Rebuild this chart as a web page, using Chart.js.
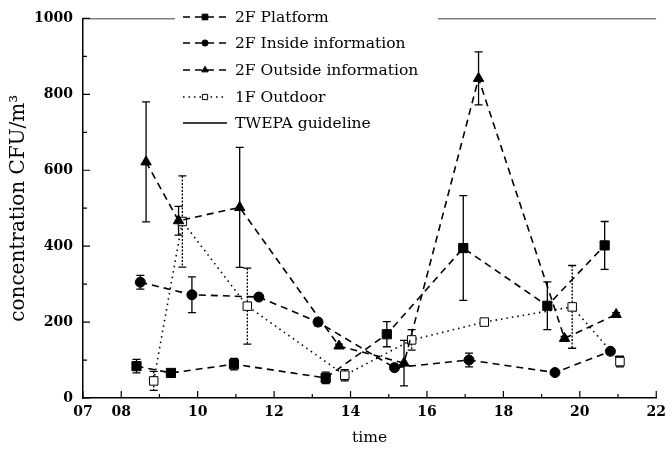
<!DOCTYPE html>
<html>
<head>
<meta charset="utf-8">
<script src="https://cdn.jsdelivr.net/npm/chart.js@4.4.0/dist/chart.umd.min.js"></script>
<style>
  html, body { margin: 0; padding: 0; background: #fff; }
  canvas { display: block; }
</style>
</head>
<body>
<canvas id="chart" width="672" height="454"></canvas>
<script>
// sampling times (hour of day), mean concentration and error per station
const platformTime = [8.4, 9.3, 10.95, 13.35, 14.95, 16.95, 19.15, 20.65];
const platformConc = [84, 66, 89, 53, 168, 395, 243, 402];
const platformErr  = [18, 4, 15, 15, 33, 138, 63, 63];

const insideTime = [8.5, 9.85, 11.6, 13.15, 15.15, 17.1, 19.35, 20.8];
const insideConc = [305, 272, 266, 200, 80, 100, 67, 123];
const insideErr  = [18, 47, 4, 10, 4, 18, 4, 4];

const outsideTime = [8.65, 9.5, 11.1, 13.7, 15.4, 17.35, 19.6, 20.95];
const outsideConc = [622, 467, 502, 137, 92, 842, 157, 220];
const outsideErr  = [158, 38, 158, 5, 60, 70, 5, 5];

const outdoorTime = [8.85, 9.6, 11.3, 13.85, 15.6, 17.5, 19.8, 21.05];
const outdoorConc = [45, 465, 242, 60, 153, 200, 240, 96];
const outdoorErr  = [25, 120, 100, 15, 27, 4, 109, 14];

const guidelineTime = [7, 22];
const guidelineConc = [1000, 1000];

const xTickLabels = ['07', '08', '', '10', '', '12', '', '14', '', '16', '', '18', '', '20', '', '22'];
const yTickLabels = ['0', '', '200', '', '400', '', '600', '', '800', '', '1000'];

const SERIF = '"DejaVu Serif", "Liberation Serif", serif';

const pts = (xs, ys) => xs.map((x, i) => ({ x, y: ys[i] }));

// vertical error bars with caps, drawn under the markers
const errorBars = {
  id: 'errorBars',
  beforeDatasetsDraw(chart) {
    const ctx = chart.ctx;
    const ys = chart.scales.y;
    chart.data.datasets.forEach((ds, i) => {
      if (!ds.err) return;
      const meta = chart.getDatasetMeta(i);
      ctx.save();
      ctx.strokeStyle = '#000';
      ctx.lineWidth = 1.3;
      meta.data.forEach((pt, j) => {
        const v = ds.data[j].y, e = ds.err[j];
        const top = ys.getPixelForValue(v + e);
        const bot = ys.getPixelForValue(v - e);
        ctx.setLineDash(ds.errDash || []);
        ctx.beginPath();
        ctx.moveTo(pt.x, top); ctx.lineTo(pt.x, bot);
        ctx.stroke();
        ctx.setLineDash([]);
        ctx.beginPath();
        ctx.moveTo(pt.x - 4, top); ctx.lineTo(pt.x + 4, top);
        ctx.moveTo(pt.x - 4, bot); ctx.lineTo(pt.x + 4, bot);
        ctx.stroke();
      });
      ctx.restore();
    });
  }
};

// inward tick marks + boxed legend in the upper part of the plot
const decorations = {
  id: 'decorations',
  afterDraw(chart) {
    const ctx = chart.ctx;
    const { x, y } = chart.scales;
    const area = chart.chartArea;
    ctx.save();
    ctx.strokeStyle = '#000';
    ctx.lineWidth = 1.2;
    ctx.beginPath();
    x.ticks.forEach((t, i) => {
      const px = x.getPixelForValue(t.value);
      const len = xTickLabels[i] ? 7 : 4;
      ctx.moveTo(px, area.bottom);
      ctx.lineTo(px, area.bottom - len);
    });
    y.ticks.forEach((t, i) => {
      const py = y.getPixelForValue(t.value);
      const len = yTickLabels[i] ? 7 : 4;
      ctx.moveTo(area.left, py);
      ctx.lineTo(area.left + len, py);
    });
    ctx.stroke();

    // legend
    ctx.fillStyle = '#fff';
    ctx.fillRect(175, 3, 263, 132);
    const x0 = 183, x1 = 227, rowY = [17, 43, 70, 97, 123];
    chart.data.datasets.forEach((ds, i) => {
      const ry = rowY[i];
      ctx.save();
      ctx.strokeStyle = '#000';
      ctx.lineWidth = ds.borderWidth;
      ctx.setLineDash(ds.borderDash || []);
      ctx.beginPath();
      ctx.moveTo(x0, ry); ctx.lineTo(x1, ry);
      ctx.stroke();
      ctx.setLineDash([]);
      if (ds.pointRadius > 0) {
        ctx.fillStyle = ds.pointBackgroundColor;
        ctx.strokeStyle = '#000';
        ctx.lineWidth = 1;
        Chart.helpers.drawPoint(ctx, {
          pointStyle: ds.pointStyle,
          radius: ds.pointRadius * 0.62,
          rotation: 0,
          borderWidth: 1
        }, (x0 + x1) / 2, ry);
      }
      ctx.restore();
      ctx.fillStyle = '#000';
      ctx.font = '15.5px ' + SERIF;
      ctx.textBaseline = 'middle';
      ctx.textAlign = 'left';
      ctx.fillText(ds.label, 235, ry + 1);
    });
    ctx.restore();
  }
};

const common = {
  borderColor: '#000',
  borderWidth: 1.6,
  tension: 0,
  pointBorderColor: '#000',
  pointBorderWidth: 1,
  fill: false
};

new Chart(document.getElementById('chart'), {
  type: 'line',
  data: {
    datasets: [
      { ...common, label: '2F Platform', data: pts(platformTime, platformConc), err: platformErr,
        borderDash: [7, 5], pointStyle: 'rect', pointRadius: 6.5, pointBackgroundColor: '#000' },
      { ...common, label: '2F Inside information', data: pts(insideTime, insideConc), err: insideErr,
        borderDash: [7, 5], pointStyle: 'circle', pointRadius: 5, pointBackgroundColor: '#000' },
      { ...common, label: '2F Outside information', data: pts(outsideTime, outsideConc), err: outsideErr,
        borderDash: [7, 5], pointStyle: 'triangle', pointRadius: 6, pointBackgroundColor: '#000' },
      { ...common, label: '1F Outdoor', data: pts(outdoorTime, outdoorConc), err: outdoorErr, errDash: [2, 1.5],
        borderDash: [1.5, 4], pointStyle: 'rect', pointRadius: 6, pointBackgroundColor: '#fff' },
      { ...common, label: 'TWEPA guideline', data: pts(guidelineTime, guidelineConc),
        borderDash: [], pointRadius: 0, pointBackgroundColor: '#000' }
    ]
  },
  options: {
    responsive: false,
    animation: false,
    devicePixelRatio: 1,
    layout: { padding: { top: 18, right: 11, left: 0, bottom: 0 } },
    plugins: {
      legend: { display: false },
      tooltip: { enabled: false }
    },
    scales: {
      x: {
        type: 'linear',
        min: 7,
        max: 22,
        afterFit: s => { s.height = 56; },
        grid: { display: false, drawTicks: false },
        border: { display: true, color: '#000', width: 1.5 },
        ticks: {
          stepSize: 1,
          autoSkip: false,
          maxRotation: 0,
          padding: 6,
          color: '#000',
          font: { family: SERIF, size: 14, weight: 'bold' },
          callback: v => xTickLabels[Math.round(v) - 7]
        },
        title: {
          display: true,
          text: 'time',
          color: '#000',
          padding: { top: 0, bottom: 7 },
          font: { family: SERIF, size: 15.5 }
        }
      },
      y: {
        min: 0,
        max: 1000,
        afterFit: s => { s.width = 83; },
        grid: { display: false, drawTicks: false },
        border: { display: true, color: '#000', width: 1.5 },
        ticks: {
          stepSize: 100,
          autoSkip: false,
          padding: 10,
          color: '#000',
          font: { family: SERIF, size: 14, weight: 'bold' },
          callback: v => yTickLabels[Math.round(v / 100)]
        },
        title: {
          display: true,
          text: 'concentration CFU/m³',
          color: '#000',
          padding: { top: 7, bottom: 0 },
          font: { family: SERIF, size: 20 }
        }
      }
    }
  },
  plugins: [errorBars, decorations]
});
</script>
</body>
</html>
